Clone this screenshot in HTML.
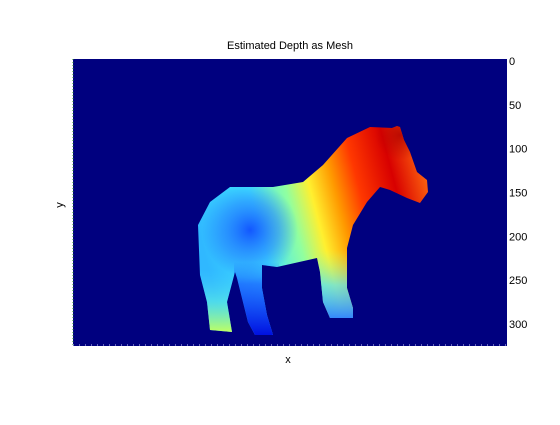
<!DOCTYPE html>
<html><head><meta charset="utf-8"><style>
body{margin:0;background:#fff;}
svg text{font-family:"Liberation Sans",sans-serif;font-size:11px;fill:#000;}
</style></head><body>
<svg width="560" height="420" viewBox="0 0 560 420">
<defs>
<linearGradient id="hg" x1="198" y1="230" x2="428" y2="170" gradientUnits="userSpaceOnUse">
<stop offset="0" stop-color="#30b8ff"/>
<stop offset="0.25" stop-color="#40e4ff"/>
<stop offset="0.40" stop-color="#90ffa0"/>
<stop offset="0.50" stop-color="#fff030"/>
<stop offset="0.60" stop-color="#ff9a00"/>
<stop offset="0.70" stop-color="#ff3800"/>
<stop offset="0.85" stop-color="#d80000"/>
<stop offset="1" stop-color="#ff6a10"/>
</linearGradient>
<radialGradient id="belly" cx="250" cy="230" r="48" gradientUnits="userSpaceOnUse">
<stop offset="0" stop-color="#1050ff" stop-opacity="0.95"/>
<stop offset="0.6" stop-color="#2070ff" stop-opacity="0.5"/>
<stop offset="1" stop-color="#2070ff" stop-opacity="0"/>
</radialGradient>
<radialGradient id="headdark" cx="400" cy="135" r="25" gradientUnits="userSpaceOnUse">
<stop offset="0" stop-color="#b00000" stop-opacity="0.8"/>
<stop offset="1" stop-color="#b00000" stop-opacity="0"/>
</radialGradient>
<linearGradient id="hind2" x1="0" y1="262" x2="0" y2="335" gradientUnits="userSpaceOnUse">
<stop offset="0" stop-color="#1040ff" stop-opacity="0"/>
<stop offset="0.3" stop-color="#1040ff" stop-opacity="0.6"/>
<stop offset="1" stop-color="#0010e0" stop-opacity="1"/>
</linearGradient>
<linearGradient id="front" x1="0" y1="250" x2="0" y2="320" gradientUnits="userSpaceOnUse">
<stop offset="0" stop-color="#a0ff90" stop-opacity="0"/>
<stop offset="0.5" stop-color="#50e0ff" stop-opacity="0.7"/>
<stop offset="1" stop-color="#3080ff"/>
</linearGradient>
<linearGradient id="hind1" x1="0" y1="270" x2="0" y2="332" gradientUnits="userSpaceOnUse">
<stop offset="0" stop-color="#40d0ff" stop-opacity="0"/>
<stop offset="0.5" stop-color="#60f0e0" stop-opacity="0.6"/>
<stop offset="1" stop-color="#c0ff60" stop-opacity="1"/>
</linearGradient>
<clipPath id="zc"><path d="M230 187 L273 187 L303 182 L323 165 L347 138 L370 127 L392 128 L397 126 L400 127 L404 140 L410 152 L417 172 L427 180 L428 192 L420 203 L407 198 L390 190 L380 187 L367 202 L353 225 L347 248 L347 288 L353 308 L353 318 L330 318 L323 302 L320 272 L317 258 L277 267 L262 265 L262 288 L267 315 L273 335 L255 335 L248 322 L237 278 L235 272 L227 302 L232 332 L210 330 L207 302 L200 275 L198 225 L210 202 Z"/></clipPath>
</defs>
<text x="290" y="49" text-anchor="middle">Estimated Depth as Mesh</text>
<rect x="73" y="59" width="434" height="287" fill="#00007f"/>
<line x1="73" y1="59" x2="73" y2="346" stroke="#2a8a2a" stroke-dasharray="1,2"/>
<line x1="73" y1="345" x2="507" y2="345" stroke="#ccccff" stroke-dasharray="1,5"/>
<g clip-path="url(#zc)">
<rect x="190" y="120" width="245" height="220" fill="url(#hg)"/>
<rect x="190" y="120" width="245" height="220" fill="url(#belly)"/>
<rect x="190" y="120" width="245" height="220" fill="url(#headdark)"/>
<rect x="318" y="250" width="40" height="75" fill="url(#front)"/>
<rect x="234" y="262" width="45" height="75" fill="url(#hind2)"/>
<rect x="196" y="270" width="38" height="65" fill="url(#hind1)"/>
</g>
<g id="yticks"></g>
<text x="288" y="363" text-anchor="middle">x</text>
<text transform="translate(63,205) rotate(-90)" text-anchor="middle">y</text>
</svg>
<script>
const yTicks=[0,50,100,150,200,250,300];
const g=document.getElementById('yticks');
function yPos(v){return 61+v*(324-61)/300;}
yTicks.forEach(v=>{
const t=document.createElementNS('http://www.w3.org/2000/svg','text');


t.setAttribute('x',509);t.setAttribute('y',yPos(v)+4);
t.textContent=v;g.appendChild(t);
});
</script>
</body></html>
